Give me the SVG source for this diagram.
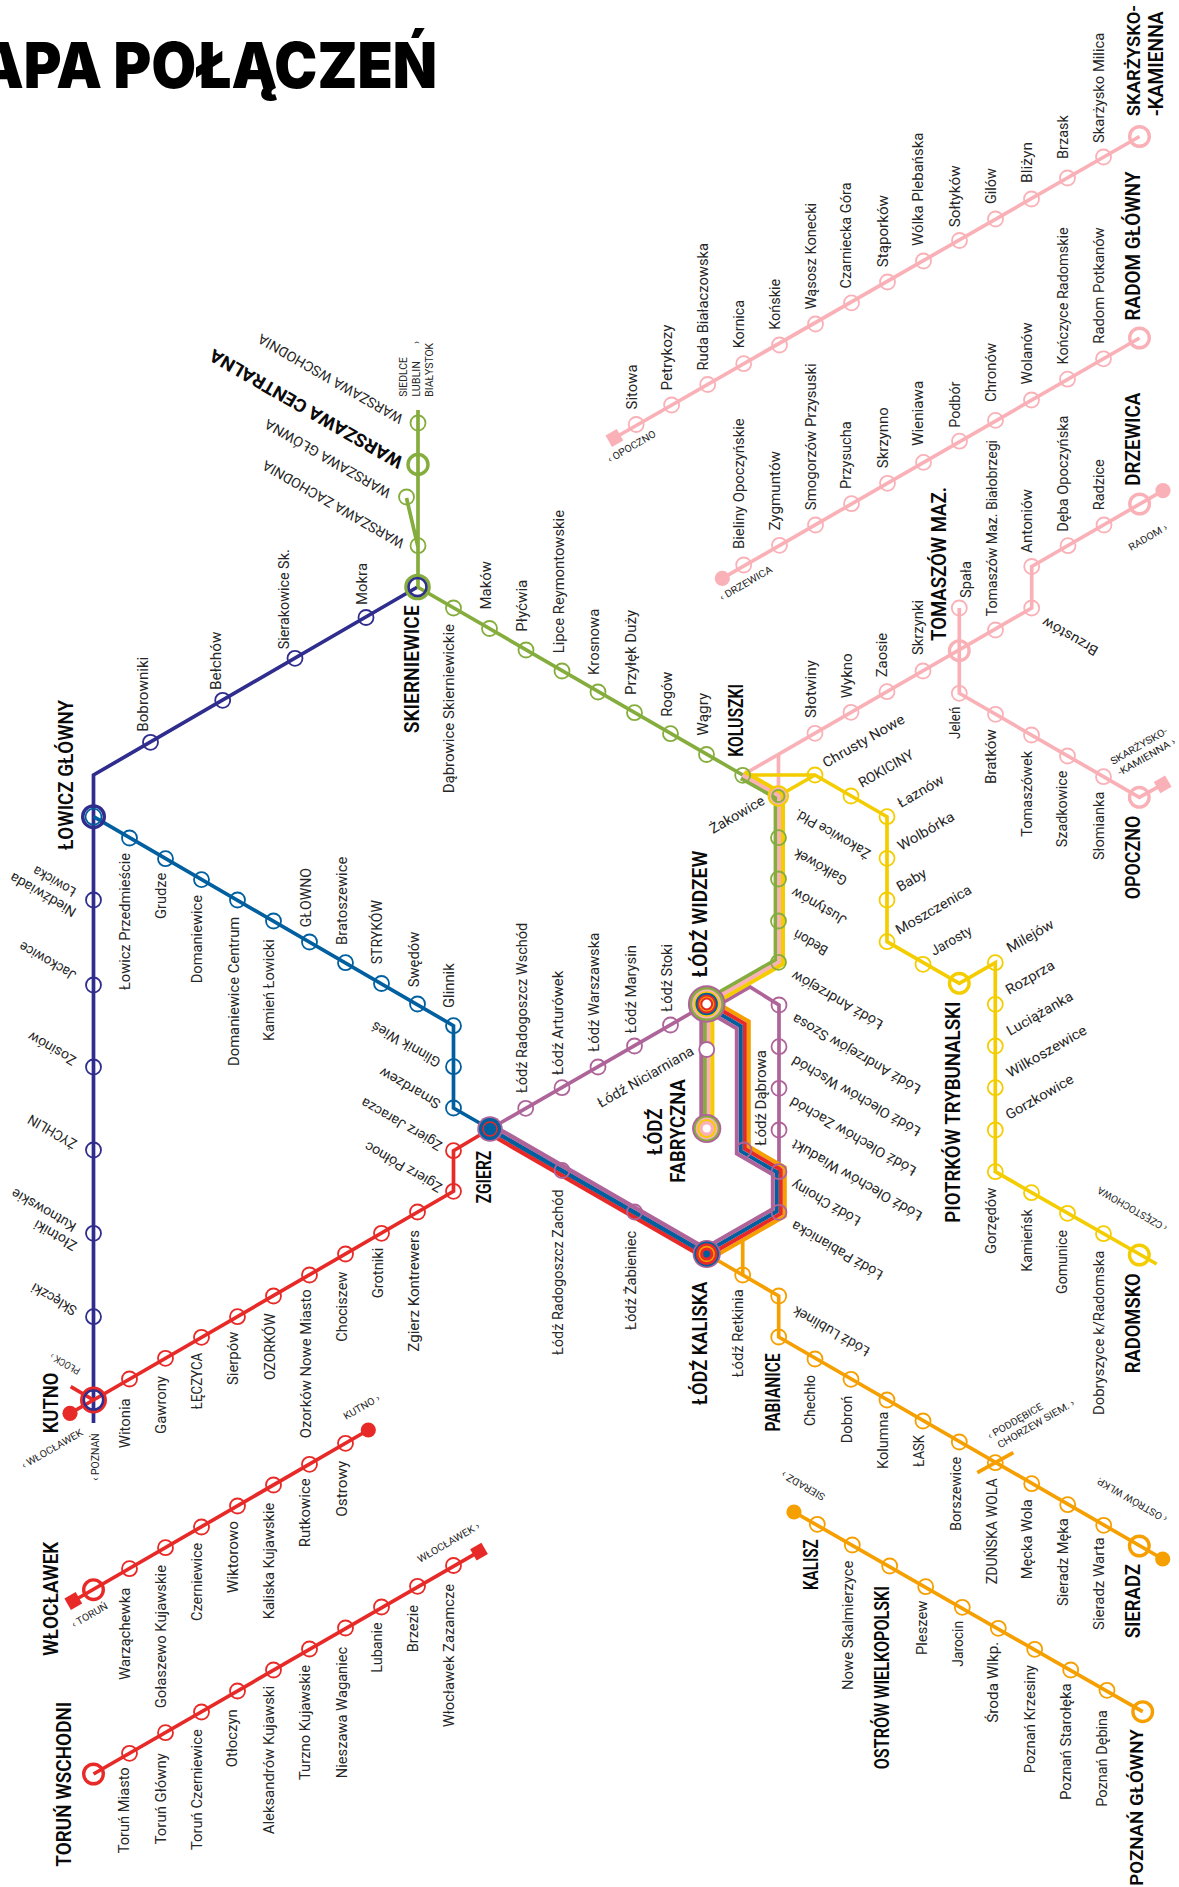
<svg xmlns="http://www.w3.org/2000/svg" width="1179" height="1887" viewBox="0 0 1179 1887">
<style>
text{font-family:Roboto,"Noto Sans","Liberation Sans",sans-serif;fill:#262626}
.l{font-size:14px}
.t{font-size:10px}
.h{font-size:20px;font-weight:600;fill:#0a0a0a}
.w{font-size:18px;font-weight:700;fill:#0a0a0a}
.ti{font-family:Inter,"Open Sans",sans-serif;font-size:63px;font-weight:900;fill:#000}
path{fill:none;stroke-linejoin:miter}
.ln{stroke-width:3.7}
.bd{stroke-width:4}
.bz{stroke-width:4.4}
circle{fill:none;stroke-width:1.8}
.big{stroke-width:3.4}
.nv{stroke:#2f2d8d}.bl{stroke:#005f9f}.rd{stroke:#e72a27}.pk{stroke:#f9b1b7}.yl{stroke:#f4cd00}.or{stroke:#f59f00}.gr{stroke:#85ad3d}.pu{stroke:#ae6499}
</style>
<g id="title"><text class="ti" x="-22" y="88" textLength="459" lengthAdjust="spacingAndGlyphs">APA POŁĄCZEŃ</text></g>
<g id="connectors">
<path class="ln nv" d="M417.5 587L93.5 775V1423"/>
<path class="ln bl" d="M93.5 816.7L453.5 1025.7V1108L490 1129"/>
<path class="ln rd" d="M490 1129L453.5 1150.7V1191.3L93.5 1400M70 1413.3L93.5 1400M70.7 1386.7L93.5 1400"/>
<path class="ln rd" d="M368.3 1430L73.3 1601"/>
<path class="ln rd" d="M93.5 1774L479 1551.7"/>
<path class="ln pk" d="M614.4 438L1139.5 136.5"/>
<path class="ln pk" d="M722.3 578.4L1139.5 338"/>
<path class="ln pk" d="M742.7 775L1031.7 608V566.5L1163 490.6"/>
<path class="ln pk" d="M959.3 608V693.3L1139.3 797.3L1162.7 784.3"/>
<path class="ln pk" d="M778.5 754V796"/>
<path class="ln yl" d="M742.7 775H815L887 816.7V941.7L959.3 983.3L995.3 962.7V1171.7L1156.7 1264"/>
<path class="ln yl" d="M815 775L778.5 796"/>
<path class="ln or" d="M706.7 1254L778.7 1296V1337L1162.7 1559"/>
<path class="ln or" d="M742.7 1240V1275"/>
<path class="ln or" d="M977.3 1472.7L1013.3 1452.7"/>
<path class="ln or" d="M794 1512L1142.7 1711.7"/>
<path class="ln gr" d="M417.5 587L742.7 775"/>
<path class="ln gr" d="M418 410V587M406.5 498L418 547"/>
<path class="ln pu" d="M490 1129L706.7 1004"/>
<path class="ln pu" d="M706.7 1012L750 987L779 1005V1174"/>
<path class="bd pu" d="M701.3 1129V1004"/>
<path class="bd gr" d="M705 1129V1000.4L775.6 959.9V797.8L740.9 778.2"/>
<path class="bd pk" d="M708.7 1129V1002.5L779.3 962V795.7L742.7 775"/>
<path class="bd yl" d="M712.4 1129V1004.6L783 964.1V793.6L744.5 771.8"/>
<path class="bd or" d="M709.7 998.8L748.8 1021.5V1146.5L784.8 1167.5V1216L709.7 1259.2"/>
<path class="bd rd" d="M707.7 1002.3L744.8 1023.8V1148.8L780.8 1169.8V1213.7L707.7 1255.7"/>
<path class="bd bl" d="M705.7 1005.7L740.8 1026.2V1151.2L776.8 1172.2V1211.3L705.7 1252.3"/>
<path class="bd pu" d="M703.7 1009.2L736.8 1028.5V1153.5L772.8 1174.5V1209L703.7 1248.8"/>
<path class="bz rd" d="M487.8 1132.7L704.5 1257.7"/>
<path class="bz bl" d="M490 1129L706.7 1254"/>
<path class="bz pu" d="M492.2 1125.3L708.9 1250.3"/>
</g>
<g id="lowicz-glowny"><circle class="big nv" cx="93.5" cy="816.7" r="10.8"/><circle class="bl" cx="93.5" cy="816.7" r="8"/><text class="h" transform="translate(73.3 850)rotate(-90)" textLength="150" lengthAdjust="spacingAndGlyphs">ŁOWICZ GŁÓWNY</text></g>
<g id="bobrowniki"><circle class="nv" cx="150.5" cy="742.3" r="7.5"/><text class="l" transform="translate(148.3 731.7)rotate(-90)" textLength="75" lengthAdjust="spacingAndGlyphs">Bobrowniki</text></g>
<g id="belchow"><circle class="nv" cx="222.7" cy="700.3" r="7.5"/><text class="l" transform="translate(220.7 690)rotate(-90)" textLength="58.4" lengthAdjust="spacingAndGlyphs">Bełchów</text></g>
<g id="sierakowice"><circle class="nv" cx="295" cy="658.3" r="7.5"/><text class="l" transform="translate(288.7 649.3)rotate(-90)" textLength="100" lengthAdjust="spacingAndGlyphs">Sierakowice Sk.</text></g>
<g id="mokra"><circle class="nv" cx="366" cy="617.5" r="7.5"/><text class="l" transform="translate(366.7 605)rotate(-90)" textLength="42" lengthAdjust="spacingAndGlyphs">Mokra</text></g>
<g id="skierniewice"><circle class="gr" style="stroke-width:3.4" cx="417.5" cy="587" r="11.6"/><circle class="nv" style="stroke-width:2.6" cx="417.5" cy="587" r="9"/><text class="h" transform="translate(419 733.3)rotate(-90)" textLength="128" lengthAdjust="spacingAndGlyphs">SKIERNIEWICE</text></g>
<g id="niedzwiada"><circle class="nv" cx="93.5" cy="900" r="7.5"/><text class="l" transform="translate(77.3 909.3)rotate(210)" textLength="74" lengthAdjust="spacingAndGlyphs">Niedźwiada</text><text class="l" transform="translate(77 889)rotate(210)" textLength="47" lengthAdjust="spacingAndGlyphs">Łowicka</text></g>
<g id="jackowice"><circle class="nv" cx="93.5" cy="985" r="7.5"/><text class="l" transform="translate(77.3 972.7)rotate(210)" textLength="63" lengthAdjust="spacingAndGlyphs">Jackowice</text></g>
<g id="zosinow"><circle class="nv" cx="93.5" cy="1067" r="7.5"/><text class="l" transform="translate(77.3 1057.7)rotate(210)" textLength="53" lengthAdjust="spacingAndGlyphs">Zosinów</text></g>
<g id="zychlin"><circle class="nv" cx="93.5" cy="1150" r="7.5"/><text class="l" transform="translate(78 1141)rotate(210)" textLength="54" lengthAdjust="spacingAndGlyphs">ŻYCHLIN</text></g>
<g id="zlotniki"><circle class="nv" cx="93.5" cy="1233.3" r="7.5"/><text class="l" transform="translate(78 1243)rotate(210)" textLength="47" lengthAdjust="spacingAndGlyphs">Złotniki</text><text class="l" transform="translate(77.3 1224)rotate(210)" textLength="72" lengthAdjust="spacingAndGlyphs">Kutnowskie</text></g>
<g id="skleczki"><circle class="nv" cx="93.5" cy="1316.7" r="7.5"/><text class="l" transform="translate(78 1307.7)rotate(210)" textLength="50" lengthAdjust="spacingAndGlyphs">Sklęczki</text></g>
<g id="kutno"><circle class="big rd" cx="93.5" cy="1400" r="11.8"/><circle class="nv" style="stroke-width:2.4" cx="93.5" cy="1400" r="9.6"/><text class="h" transform="translate(57.7 1433.3)rotate(-90)" textLength="60.6" lengthAdjust="spacingAndGlyphs">KUTNO</text></g>
<g id="dir-plock"><text class="t" transform="translate(81 1369)rotate(210)" textLength="33" lengthAdjust="spacingAndGlyphs">PŁOCK ›</text></g>
<g id="dir-plock-dot"><circle style="stroke:none;fill:#e72a27" cx="70" cy="1413.3" r="7.6"/></g>
<g id="dir-wloclawek"><text class="t" transform="translate(24 1469)rotate(-30)" textLength="69" lengthAdjust="spacingAndGlyphs">‹ WŁOCŁAWEK</text></g>
<g id="dir-poznan"><text class="t" transform="translate(99 1480.7)rotate(-90)" textLength="47.4" lengthAdjust="spacingAndGlyphs">‹ POZNAŃ</text></g>
<g id="lowicz-przedmiescie"><circle class="bl" cx="129.5" cy="838" r="7.5"/><text class="l" transform="translate(130 990)rotate(-90)" textLength="137" lengthAdjust="spacingAndGlyphs">Łowicz Przedmieście</text></g>
<g id="grudze"><circle class="bl" cx="165.5" cy="858.7" r="7.5"/><text class="l" transform="translate(165.7 919)rotate(-90)" textLength="46.3" lengthAdjust="spacingAndGlyphs">Grudze</text></g>
<g id="domaniewice"><circle class="bl" cx="201.5" cy="879.6" r="7.5"/><text class="l" transform="translate(202 983.3)rotate(-90)" textLength="88.3" lengthAdjust="spacingAndGlyphs">Domaniewice</text></g>
<g id="domaniewice-centrum"><circle class="bl" cx="237.5" cy="900" r="7.5"/><text class="l" transform="translate(238.7 1066)rotate(-90)" textLength="149.3" lengthAdjust="spacingAndGlyphs">Domaniewice Centrum</text></g>
<g id="kamien-lowicki"><circle class="bl" cx="273.5" cy="921" r="7.5"/><text class="l" transform="translate(274 1041)rotate(-90)" textLength="101.7" lengthAdjust="spacingAndGlyphs">Kamień Łowicki</text></g>
<g id="glowno"><circle class="bl" cx="309.5" cy="942" r="7.5"/><text class="l" transform="translate(310.7 927.3)rotate(-90)" textLength="59.3" lengthAdjust="spacingAndGlyphs">GŁOWNO</text></g>
<g id="bratoszewice"><circle class="bl" cx="345.5" cy="962.7" r="7.5"/><text class="l" transform="translate(346.7 945)rotate(-90)" textLength="88.3" lengthAdjust="spacingAndGlyphs">Bratoszewice</text></g>
<g id="strykow"><circle class="bl" cx="381.5" cy="983.5" r="7.5"/><text class="l" transform="translate(382.3 964.3)rotate(-90)" textLength="64.3" lengthAdjust="spacingAndGlyphs">STRYKÓW</text></g>
<g id="swedow"><circle class="bl" cx="417.5" cy="1004" r="7.5"/><text class="l" transform="translate(419 987.3)rotate(-90)" textLength="55.6" lengthAdjust="spacingAndGlyphs">Swędów</text></g>
<g id="glinnik"><circle class="bl" cx="453.5" cy="1025.7" r="7.5"/><text class="l" transform="translate(454 1008)rotate(-90)" textLength="44.7" lengthAdjust="spacingAndGlyphs">Glinnik</text></g>
<g id="glinnik-wies"><circle class="bl" cx="453.5" cy="1066.7" r="7.5"/><text class="l" transform="translate(441.7 1059.6)rotate(210)" textLength="77" lengthAdjust="spacingAndGlyphs">Glinnik Wieś</text></g>
<g id="smardzew"><circle class="bl" cx="453.5" cy="1108" r="7.5"/><text class="l" transform="translate(441.7 1101)rotate(210)" textLength="68" lengthAdjust="spacingAndGlyphs">Smardzew</text></g>
<g id="zgierz"><circle style="fill:#ae6499;stroke:none" cx="490" cy="1129" r="12.8"/><circle style="fill:#005f9f;stroke:none" cx="490" cy="1129" r="11"/><circle class="rd" style="stroke-width:1.6" cx="490" cy="1129" r="7"/><text class="h" transform="translate(490.7 1203.3)rotate(-90)" textLength="52.6" lengthAdjust="spacingAndGlyphs">ZGIERZ</text></g>
<g id="zgierz-jaracza"><circle class="rd" cx="453.5" cy="1150.7" r="7.5"/><text class="l" transform="translate(443.3 1143)rotate(210)" textLength="91" lengthAdjust="spacingAndGlyphs">Zgierz Jaracza</text></g>
<g id="zgierz-polnoc"><circle class="rd" cx="453.5" cy="1191.3" r="7.5"/><text class="l" transform="translate(443.3 1184.7)rotate(210)" textLength="87" lengthAdjust="spacingAndGlyphs">Zgierz Północ</text></g>
<g id="zgierz-kontrewers"><circle class="rd" cx="417.5" cy="1212" r="7.5"/><text class="l" transform="translate(419.3 1351.7)rotate(-90)" textLength="121.7" lengthAdjust="spacingAndGlyphs">Zgierz Kontrewers</text></g>
<g id="grotniki"><circle class="rd" cx="381.5" cy="1233.3" r="7.5"/><text class="l" transform="translate(382.7 1298.3)rotate(-90)" textLength="50.6" lengthAdjust="spacingAndGlyphs">Grotniki</text></g>
<g id="chociszew"><circle class="rd" cx="345.5" cy="1254" r="7.5"/><text class="l" transform="translate(346.7 1341.7)rotate(-90)" textLength="70" lengthAdjust="spacingAndGlyphs">Chociszew</text></g>
<g id="ozorkow-nm"><circle class="rd" cx="309.5" cy="1275" r="7.5"/><text class="l" transform="translate(310.7 1438.3)rotate(-90)" textLength="149" lengthAdjust="spacingAndGlyphs">Ozorków Nowe Miasto</text></g>
<g id="ozorkow"><circle class="rd" cx="273.5" cy="1296" r="7.5"/><text class="l" transform="translate(275 1380)rotate(-90)" textLength="66.7" lengthAdjust="spacingAndGlyphs">OZORKÓW</text></g>
<g id="sierpow"><circle class="rd" cx="237.5" cy="1316.7" r="7.5"/><text class="l" transform="translate(238 1385)rotate(-90)" textLength="53.3" lengthAdjust="spacingAndGlyphs">Sierpów</text></g>
<g id="leczyca"><circle class="rd" cx="201.5" cy="1337.3" r="7.5"/><text class="l" transform="translate(201.7 1409.3)rotate(-90)" textLength="56.6" lengthAdjust="spacingAndGlyphs">ŁĘCZYCA</text></g>
<g id="gawrony"><circle class="rd" cx="165.5" cy="1358.3" r="7.5"/><text class="l" transform="translate(165.5 1434)rotate(-90)" textLength="58" lengthAdjust="spacingAndGlyphs">Gawrony</text></g>
<g id="witonia"><circle class="rd" cx="129.5" cy="1379" r="7.5"/><text class="l" transform="translate(130 1448.3)rotate(-90)" textLength="50" lengthAdjust="spacingAndGlyphs">Witonia</text></g>
<g id="dir-kutno"><circle style="stroke:none;fill:#e72a27" cx="368.3" cy="1430" r="7.6"/><text class="t" transform="translate(346 1420)rotate(-30)" textLength="40" lengthAdjust="spacingAndGlyphs">KUTNO ›</text></g>
<g id="ostrowy"><circle class="rd" cx="345.5" cy="1443.3" r="7.5"/><text class="l" transform="translate(346.7 1516.7)rotate(-90)" textLength="56" lengthAdjust="spacingAndGlyphs">Ostrowy</text></g>
<g id="rutkowice"><circle class="rd" cx="309.5" cy="1464.3" r="7.5"/><text class="l" transform="translate(310 1547.3)rotate(-90)" textLength="69" lengthAdjust="spacingAndGlyphs">Rutkowice</text></g>
<g id="kaliska-kuj"><circle class="rd" cx="273.5" cy="1485" r="7.5"/><text class="l" transform="translate(274 1619.3)rotate(-90)" textLength="116.6" lengthAdjust="spacingAndGlyphs">Kaliska Kujawskie</text></g>
<g id="wiktorowo"><circle class="rd" cx="237.5" cy="1506" r="7.5"/><text class="l" transform="translate(238.3 1593.3)rotate(-90)" textLength="72.3" lengthAdjust="spacingAndGlyphs">Wiktorowo</text></g>
<g id="czerniewice"><circle class="rd" cx="201.5" cy="1527" r="7.5"/><text class="l" transform="translate(201.7 1621)rotate(-90)" textLength="78.3" lengthAdjust="spacingAndGlyphs">Czerniewice</text></g>
<g id="golaszewo"><circle class="rd" cx="165.5" cy="1547.7" r="7.5"/><text class="l" transform="translate(165.7 1708.3)rotate(-90)" textLength="143.3" lengthAdjust="spacingAndGlyphs">Gołaszewo Kujawskie</text></g>
<g id="warzachewka"><circle class="rd" cx="129.5" cy="1568.7" r="7.5"/><text class="l" transform="translate(130 1680)rotate(-90)" textLength="92.3" lengthAdjust="spacingAndGlyphs">Warząchewka</text></g>
<g id="wloclawek"><circle class="big rd" cx="93.5" cy="1589.7" r="9.8"/><text class="h" transform="translate(57.7 1656)rotate(-90)" textLength="114.3" lengthAdjust="spacingAndGlyphs">WŁOCŁAWEK</text></g>
<g id="dir-torun"><rect x="-6.5" y="-6.5" width="13" height="13" fill="#e72a27" transform="translate(73.3 1601)rotate(-30)"/><text class="t" transform="translate(74 1628)rotate(-30)" textLength="40" lengthAdjust="spacingAndGlyphs">‹ TORUŃ</text></g>
<g id="torun-wsch"><circle class="big rd" cx="93.5" cy="1774" r="9.8"/><text class="h" transform="translate(71 1866.7)rotate(-90)" textLength="165" lengthAdjust="spacingAndGlyphs">TORUŃ WSCHODNI</text></g>
<g id="torun-miasto"><circle class="rd" cx="129.5" cy="1753.3" r="7.5"/><text class="l" transform="translate(129.3 1853.3)rotate(-90)" textLength="86" lengthAdjust="spacingAndGlyphs">Toruń Miasto</text></g>
<g id="torun-glowny"><circle class="rd" cx="165.5" cy="1732.7" r="7.5"/><text class="l" transform="translate(165.7 1844.3)rotate(-90)" textLength="91" lengthAdjust="spacingAndGlyphs">Toruń Główny</text></g>
<g id="torun-czern"><circle class="rd" cx="201.5" cy="1712" r="7.5"/><text class="l" transform="translate(201.7 1850)rotate(-90)" textLength="120.7" lengthAdjust="spacingAndGlyphs">Toruń Czerniewice</text></g>
<g id="otloczyn"><circle class="rd" cx="237.5" cy="1691" r="7.5"/><text class="l" transform="translate(237.3 1767.3)rotate(-90)" textLength="58" lengthAdjust="spacingAndGlyphs">Otłoczyn</text></g>
<g id="aleksandrow"><circle class="rd" cx="273.5" cy="1670" r="7.5"/><text class="l" transform="translate(274 1834.3)rotate(-90)" textLength="148.3" lengthAdjust="spacingAndGlyphs">Aleksandrów Kujawski</text></g>
<g id="turzno"><circle class="rd" cx="309.5" cy="1649" r="7.5"/><text class="l" transform="translate(310 1780)rotate(-90)" textLength="115" lengthAdjust="spacingAndGlyphs">Turzno Kujawskie</text></g>
<g id="nieszawa"><circle class="rd" cx="345.5" cy="1628" r="7.5"/><text class="l" transform="translate(346.7 1778.3)rotate(-90)" textLength="131.6" lengthAdjust="spacingAndGlyphs">Nieszawa Waganiec</text></g>
<g id="lubanie"><circle class="rd" cx="381.5" cy="1607" r="7.5"/><text class="l" transform="translate(382.3 1672.7)rotate(-90)" textLength="50.4" lengthAdjust="spacingAndGlyphs">Lubanie</text></g>
<g id="brzezie"><circle class="rd" cx="417.5" cy="1586.3" r="7.5"/><text class="l" transform="translate(418.3 1652.3)rotate(-90)" textLength="47.3" lengthAdjust="spacingAndGlyphs">Brzezie</text></g>
<g id="wl-zazamcze"><circle class="rd" cx="453.5" cy="1565.5" r="7.5"/><text class="l" transform="translate(454.3 1727.3)rotate(-90)" textLength="143.3" lengthAdjust="spacingAndGlyphs">Włocławek Zazamcze</text></g>
<g id="dir-wloclawek2"><rect x="-6.5" y="-6.5" width="13" height="13" fill="#e72a27" transform="translate(479 1551.7)rotate(-30)"/><text class="t" transform="translate(420 1563)rotate(-30)" textLength="70" lengthAdjust="spacingAndGlyphs">WŁOCŁAWEK ›</text></g>
<g id="warszawa-wsch"><circle class="gr" cx="418" cy="423" r="7.5"/><text class="l" transform="translate(404.2 415.8)rotate(210)" textLength="165" lengthAdjust="spacingAndGlyphs">WARSZAWA WSCHODNIA</text></g>
<g id="warszawa-cent"><circle class="big gr" cx="418" cy="464.5" r="10"/><text class="w" transform="translate(404.4 458.3)rotate(210)" textLength="220" lengthAdjust="spacingAndGlyphs">WARSZAWA CENTRALNA</text></g>
<g id="warszawa-glowna"><circle class="gr" cx="406.5" cy="497" r="7.5"/><text class="l" transform="translate(392 490)rotate(210)" textLength="143" lengthAdjust="spacingAndGlyphs">WARSZAWA GŁÓWNA</text></g>
<g id="warszawa-zach"><circle class="gr" cx="418" cy="545.7" r="7.5"/><text class="l" transform="translate(405.4 540.3)rotate(210)" textLength="161" lengthAdjust="spacingAndGlyphs">WARSZAWA ZACHODNIA</text></g>
<g id="dir-siedlce"><text class="t" transform="translate(406.9 396.7)rotate(-90)" textLength="39.7" lengthAdjust="spacingAndGlyphs">SIEDLCE</text><text class="t" transform="translate(420.3 396.7)rotate(-90)" textLength="35.7" lengthAdjust="spacingAndGlyphs">LUBLIN</text><text class="t" transform="translate(433 396.7)rotate(-90)" textLength="53.8" lengthAdjust="spacingAndGlyphs">BIAŁYSTOK</text><text class="t" transform="translate(420.3 344)rotate(-90)">›</text></g>
<g id="dabrowice"><circle class="gr" cx="453.5" cy="608" r="7.5"/><text class="l" transform="translate(454 793.3)rotate(-90)" textLength="169.3" lengthAdjust="spacingAndGlyphs">Dąbrowice Skierniewickie</text></g>
<g id="makow"><circle class="gr" cx="489.5" cy="628.5" r="7.5"/><text class="l" transform="translate(491 609.4)rotate(-90)" textLength="48.4" lengthAdjust="spacingAndGlyphs">Maków</text></g>
<g id="plycwia"><circle class="gr" cx="526" cy="650" r="7.5"/><text class="l" transform="translate(527 631.8)rotate(-90)" textLength="52.2" lengthAdjust="spacingAndGlyphs">Płyćwia</text></g>
<g id="lipce"><circle class="gr" cx="562" cy="671" r="7.5"/><text class="l" transform="translate(563.5 653.3)rotate(-90)" textLength="143.3" lengthAdjust="spacingAndGlyphs">Lipce Reymontowskie</text></g>
<g id="krosnowa"><circle class="gr" cx="598" cy="692" r="7.5"/><text class="l" transform="translate(599 675)rotate(-90)" textLength="66.3" lengthAdjust="spacingAndGlyphs">Krosnowa</text></g>
<g id="przylek"><circle class="gr" cx="634.5" cy="712.7" r="7.5"/><text class="l" transform="translate(635.7 695)rotate(-90)" textLength="85" lengthAdjust="spacingAndGlyphs">Przyłęk Duży</text></g>
<g id="rogow"><circle class="gr" cx="670.5" cy="733.7" r="7.5"/><text class="l" transform="translate(671.7 716.7)rotate(-90)" textLength="45" lengthAdjust="spacingAndGlyphs">Rogów</text></g>
<g id="wagry"><circle class="gr" cx="706.5" cy="754.5" r="7.5"/><text class="l" transform="translate(707.5 735.7)rotate(-90)" textLength="43" lengthAdjust="spacingAndGlyphs">Wągry</text></g>
<g id="koluszki"><circle class="gr" cx="742.7" cy="775.3" r="7.5"/><text class="h" transform="translate(743.3 756.7)rotate(-90)" textLength="72.7" lengthAdjust="spacingAndGlyphs">KOLUSZKI</text></g>
<g id="zakowice"><circle class="yl" style="stroke-width:2.2" cx="778.3" cy="796" r="9.6"/><circle class="pk" style="stroke-width:2" cx="778.3" cy="796" r="7.6"/><circle class="gr" cx="778.3" cy="796" r="6.2"/><text class="l" transform="translate(713 834)rotate(-30)" textLength="61" lengthAdjust="spacingAndGlyphs">Żakowice</text></g>
<g id="zakowice-pld"><circle class="gr" cx="778.5" cy="837.7" r="7.5"/><text class="l" transform="translate(871.7 851)rotate(210)" textLength="85" lengthAdjust="spacingAndGlyphs">Żakowice Płd.</text></g>
<g id="galkowek"><circle class="gr" cx="778.5" cy="879" r="7.5"/><text class="l" transform="translate(848.3 877.7)rotate(210)" textLength="59" lengthAdjust="spacingAndGlyphs">Gałkówek</text></g>
<g id="justynow"><circle class="gr" cx="778.5" cy="921" r="7.5"/><text class="l" transform="translate(847.7 917.7)rotate(210)" textLength="61" lengthAdjust="spacingAndGlyphs">Justynów</text></g>
<g id="bedon"><circle class="gr" cx="778.5" cy="962.3" r="7.5"/><text class="l" transform="translate(829 947.7)rotate(210)" textLength="37" lengthAdjust="spacingAndGlyphs">Bedoń</text></g>
<g id="lodz-radogoszcz-w"><circle class="pu" cx="525.7" cy="1108.3" r="7.5"/><text class="l" transform="translate(527.3 1093)rotate(-90)" textLength="170.3" lengthAdjust="spacingAndGlyphs">Łódź Radogoszcz Wschód</text></g>
<g id="lodz-arturowek"><circle class="pu" cx="562" cy="1087.7" r="7.5"/><text class="l" transform="translate(563.3 1075)rotate(-90)" textLength="104.3" lengthAdjust="spacingAndGlyphs">Łódź Arturówek</text></g>
<g id="lodz-warszawska"><circle class="pu" cx="598" cy="1067" r="7.5"/><text class="l" transform="translate(599.3 1051.7)rotate(-90)" textLength="119" lengthAdjust="spacingAndGlyphs">Łódź Warszawska</text></g>
<g id="lodz-marysin"><circle class="pu" cx="634.5" cy="1046" r="7.5"/><text class="l" transform="translate(635.7 1033.3)rotate(-90)" textLength="88.3" lengthAdjust="spacingAndGlyphs">Łódź Marysin</text></g>
<g id="lodz-stoki"><circle class="pu" cx="670.5" cy="1025" r="7.5"/><text class="l" transform="translate(671.7 1011.7)rotate(-90)" textLength="67.7" lengthAdjust="spacingAndGlyphs">Łódź Stoki</text></g>
<g id="lodz-widzew"><circle style="fill:#ae6499;stroke:none" cx="706.7" cy="1004" r="18.8"/><circle style="fill:#85ad3d;stroke:none" cx="706.7" cy="1004" r="16.8"/><circle style="fill:#f9b1b7;stroke:none" cx="706.7" cy="1004" r="14.6"/><circle style="fill:#f4cd00;stroke:none" cx="706.7" cy="1004" r="12.8"/><circle style="fill:#005f9f;stroke:none" cx="706.7" cy="1004" r="11.2"/><circle style="fill:#e72a27;stroke:none" cx="706.7" cy="1004" r="9.4"/><circle style="fill:#f59f00;stroke:none" cx="706.7" cy="1004" r="7.6"/><circle style="fill:#e72a27;stroke:none" cx="706.7" cy="1004" r="6.4"/><circle style="fill:#fff;stroke:none" cx="706.7" cy="1004" r="4.4"/><text class="h" transform="translate(706.7 977.3)rotate(-90)" textLength="126.6" lengthAdjust="spacingAndGlyphs">ŁÓDŹ WIDZEW</text></g>
<g id="lodz-niciarniana"><circle style="fill:#fff;stroke:#ae6499;stroke-width:1.8" cx="706.7" cy="1049.5" r="7.5"/><text class="l" transform="translate(601 1108)rotate(-30)" textLength="108.5" lengthAdjust="spacingAndGlyphs">Łódź Niciarniana</text></g>
<g id="lodz-fabryczna"><circle style="fill:#ae6499;stroke:none" cx="706.7" cy="1128.5" r="14.6"/><circle style="fill:#85ad3d;stroke:none" cx="706.7" cy="1128.5" r="12.8"/><circle style="fill:#f9b1b7;stroke:none" cx="706.7" cy="1128.5" r="11"/><circle style="fill:#f4cd00;stroke:none" cx="706.7" cy="1128.5" r="9.4"/><circle style="fill:#f9b1b7;stroke:none" cx="706.7" cy="1128.5" r="7.4"/><circle style="fill:#fff;stroke:none" cx="706.7" cy="1128.5" r="4"/><text class="h" transform="translate(661.7 1155)rotate(-90)" textLength="46.7" lengthAdjust="spacingAndGlyphs">ŁÓDŹ</text><text class="h" transform="translate(685 1182.7)rotate(-90)" textLength="103.4" lengthAdjust="spacingAndGlyphs">FABRYCZNA</text></g>
<g id="lodz-dabrowa"><circle class="pu" cx="744" cy="1150" r="7.5"/><text class="l" transform="translate(765.7 1145.7)rotate(-90)" textLength="95.7" lengthAdjust="spacingAndGlyphs">Łódź Dąbrowa</text></g>
<g id="lodz-andrzejow"><circle class="pu" cx="779" cy="1005" r="7.5"/><text class="l" transform="translate(884 1021.7)rotate(210)" textLength="103" lengthAdjust="spacingAndGlyphs">Łódź Andrzejów</text></g>
<g id="lodz-szosa"><circle class="pu" cx="779" cy="1046.7" r="7.5"/><text class="l" transform="translate(921.7 1086.3)rotate(210)" textLength="145.5" lengthAdjust="spacingAndGlyphs">Łódź Andrzejów Szosa</text></g>
<g id="lodz-ol-wschod"><circle class="pu" cx="779" cy="1088.3" r="7.5"/><text class="l" transform="translate(921.7 1128.5)rotate(210)" textLength="146" lengthAdjust="spacingAndGlyphs">Łódź Olechów Wschód</text></g>
<g id="lodz-ol-zachod"><circle class="pu" cx="779" cy="1130" r="7.5"/><text class="l" transform="translate(917.3 1168)rotate(210)" textLength="143" lengthAdjust="spacingAndGlyphs">Łódź Olechów Zachód</text></g>
<g id="lodz-ol-wiadukt"><circle class="pu" cx="779" cy="1171.7" r="7.5"/><text class="l" transform="translate(923.3 1213)rotate(210)" textLength="148" lengthAdjust="spacingAndGlyphs">Łódź Olechów Wiadukt</text></g>
<g id="lodz-choiny"><circle class="pu" cx="779" cy="1212.3" r="7.5"/><text class="l" transform="translate(861.7 1218)rotate(210)" textLength="77" lengthAdjust="spacingAndGlyphs">Łódź Choiny</text></g>
<g id="lodz-pabianicka"><text class="l" transform="translate(884 1272)rotate(210)" textLength="103" lengthAdjust="spacingAndGlyphs">Łódź Pabianicka</text></g>
<g id="lodz-radogoszcz-z"><circle class="pu" cx="562" cy="1170.5" r="7.5"/><text class="l" transform="translate(563.3 1355)rotate(-90)" textLength="165.7" lengthAdjust="spacingAndGlyphs">Łódź Radogoszcz Zachód</text></g>
<g id="lodz-zabieniec"><circle class="pu" cx="634.5" cy="1212" r="7.5"/><text class="l" transform="translate(635.7 1330)rotate(-90)" textLength="99.3" lengthAdjust="spacingAndGlyphs">Łódź Żabieniec</text></g>
<g id="lodz-kaliska"><circle style="fill:#ae6499;stroke:none" cx="706.7" cy="1254" r="14"/><circle style="fill:#005f9f;stroke:none" cx="706.7" cy="1254" r="12.4"/><circle style="fill:#e72a27;stroke:none" cx="706.7" cy="1254" r="10.8"/><circle style="fill:#f59f00;stroke:none" cx="706.7" cy="1254" r="8.2"/><circle style="fill:#e72a27;stroke:none" cx="706.7" cy="1254" r="6.6"/><circle style="fill:#005f9f;stroke:none" cx="706.7" cy="1254" r="3.4"/><text class="h" transform="translate(706.7 1405)rotate(-90)" textLength="123.3" lengthAdjust="spacingAndGlyphs">ŁÓDŹ KALISKA</text></g>
<g id="lodz-retkinia"><circle class="or" cx="742.7" cy="1275" r="7.5"/><text class="l" transform="translate(743.3 1377.3)rotate(-90)" textLength="88" lengthAdjust="spacingAndGlyphs">Łódź Retkinia</text></g>
<g id="lodz-lublinek"><circle class="or" cx="778.7" cy="1296" r="7.5"/><text class="l" transform="translate(870.7 1348.6)rotate(210)" textLength="86" lengthAdjust="spacingAndGlyphs">Łódź Lublinek</text></g>
<g id="pabianice"><circle class="or" cx="778.7" cy="1337" r="7.5"/><text class="h" transform="translate(780 1431.6)rotate(-90)" textLength="78.3" lengthAdjust="spacingAndGlyphs">PABIANICE</text></g>
<g id="chechlo"><circle class="or" cx="815" cy="1359" r="7.5"/><text class="l" transform="translate(815 1426)rotate(-90)" textLength="51" lengthAdjust="spacingAndGlyphs">Chechło</text></g>
<g id="dobron"><circle class="or" cx="851" cy="1379.3" r="7.5"/><text class="l" transform="translate(851.7 1443.3)rotate(-90)" textLength="47.6" lengthAdjust="spacingAndGlyphs">Dobroń</text></g>
<g id="kolumna"><circle class="or" cx="887" cy="1400" r="7.5"/><text class="l" transform="translate(888.3 1469)rotate(-90)" textLength="57.3" lengthAdjust="spacingAndGlyphs">Kolumna</text></g>
<g id="lask"><circle class="or" cx="923" cy="1421" r="7.5"/><text class="l" transform="translate(924.3 1466.7)rotate(-90)" textLength="31.7" lengthAdjust="spacingAndGlyphs">ŁASK</text></g>
<g id="borszewice"><circle class="or" cx="959.3" cy="1442" r="7.5"/><text class="l" transform="translate(960.7 1531)rotate(-90)" textLength="74.3" lengthAdjust="spacingAndGlyphs">Borszewice</text></g>
<g id="zdunska-wola"><circle class="or" cx="995.3" cy="1462.7" r="7.5"/><text class="l" transform="translate(996.7 1584.3)rotate(-90)" textLength="106" lengthAdjust="spacingAndGlyphs">ZDUŃSKA WOLA</text></g>
<g id="dir-poddebice"><text class="t" transform="translate(990 1439.5)rotate(-30)" textLength="62" lengthAdjust="spacingAndGlyphs">‹ PODDĘBICE</text><text class="t" transform="translate(1000 1448.5)rotate(-30)" textLength="87" lengthAdjust="spacingAndGlyphs">CHORZEW SIEM. ›</text></g>
<g id="mecka-wola"><circle class="or" cx="1031.7" cy="1483.7" r="7.5"/><text class="l" transform="translate(1031.7 1579.3)rotate(-90)" textLength="80" lengthAdjust="spacingAndGlyphs">Męcka Wola</text></g>
<g id="sieradz-meka"><circle class="or" cx="1067.7" cy="1504.7" r="7.5"/><text class="l" transform="translate(1068.3 1606)rotate(-90)" textLength="87.7" lengthAdjust="spacingAndGlyphs">Sieradz Męka</text></g>
<g id="sieradz-warta"><circle class="or" cx="1103.7" cy="1525.3" r="7.5"/><text class="l" transform="translate(1104.3 1630)rotate(-90)" textLength="92.7" lengthAdjust="spacingAndGlyphs">Sieradz Warta</text></g>
<g id="sieradz"><circle class="big or" cx="1139.3" cy="1546" r="9.8"/><text class="h" transform="translate(1140 1638.3)rotate(-90)" textLength="74.3" lengthAdjust="spacingAndGlyphs">SIERADZ</text></g>
<g id="dir-ostrow"><circle style="stroke:none;fill:#f59f00" cx="1162.7" cy="1559" r="7.6"/><text class="t" transform="translate(1168.3 1517)rotate(210)" textLength="80" lengthAdjust="spacingAndGlyphs">‹ OSTRÓW WLKP.</text></g>
<g id="dir-sieradz"><circle style="stroke:none;fill:#f59f00" cx="794" cy="1512" r="7.6"/><text class="t" transform="translate(826 1495)rotate(210)" textLength="49" lengthAdjust="spacingAndGlyphs">SIERADZ ›</text></g>
<g id="kalisz"><circle class="or" cx="817.3" cy="1524.3" r="7.5"/><text class="h" transform="translate(817.7 1590)rotate(-90)" textLength="50.7" lengthAdjust="spacingAndGlyphs">KALISZ</text></g>
<g id="nowe-skalmierzyce"><circle class="or" cx="852.3" cy="1545" r="7.5"/><text class="l" transform="translate(853.3 1690)rotate(-90)" textLength="129.3" lengthAdjust="spacingAndGlyphs">Nowe Skalmierzyce</text></g>
<g id="ostrow-wlkp"><circle class="or" cx="889.7" cy="1566" r="7.5"/><text class="h" transform="translate(889 1769.3)rotate(-90)" textLength="183.3" lengthAdjust="spacingAndGlyphs">OSTRÓW WIELKOPOLSKI</text></g>
<g id="pleszew"><circle class="or" cx="925.7" cy="1586.7" r="7.5"/><text class="l" transform="translate(926.7 1655)rotate(-90)" textLength="54.3" lengthAdjust="spacingAndGlyphs">Pleszew</text></g>
<g id="jarocin"><circle class="or" cx="962.3" cy="1607.3" r="7.5"/><text class="l" transform="translate(962.7 1666.7)rotate(-90)" textLength="45.7" lengthAdjust="spacingAndGlyphs">Jarocin</text></g>
<g id="sroda"><circle class="or" cx="998.3" cy="1628.3" r="7.5"/><text class="l" transform="translate(998.3 1722.7)rotate(-90)" textLength="81" lengthAdjust="spacingAndGlyphs">Środa Wlkp.</text></g>
<g id="poznan-krzesiny"><circle class="or" cx="1034.7" cy="1649.3" r="7.5"/><text class="l" transform="translate(1035 1773.3)rotate(-90)" textLength="108.3" lengthAdjust="spacingAndGlyphs">Poznań Krzesiny</text></g>
<g id="poznan-staroleka"><circle class="or" cx="1070.7" cy="1670" r="7.5"/><text class="l" transform="translate(1071 1800)rotate(-90)" textLength="116.7" lengthAdjust="spacingAndGlyphs">Poznań Starołęka</text></g>
<g id="poznan-debina"><circle class="or" cx="1107" cy="1690.3" r="7.5"/><text class="l" transform="translate(1106.7 1806.7)rotate(-90)" textLength="96.7" lengthAdjust="spacingAndGlyphs">Poznań Dębina</text></g>
<g id="poznan-glowny"><circle class="big or" cx="1142.7" cy="1711.7" r="9.8"/><text class="h" style="font-size:19px" transform="translate(1142.7 1885.7)rotate(-90)" textLength="156.4" lengthAdjust="spacingAndGlyphs">POZNAŃ GŁÓWNY</text></g>
<g id="dir-opoczno"><rect x="-6.5" y="-6.5" width="13" height="13" fill="#f9b1b7" transform="translate(614.4 438)rotate(-30)"/><text class="t" transform="translate(610 463)rotate(-30)" textLength="54" lengthAdjust="spacingAndGlyphs">‹ OPOCZNO</text></g>
<g id="sitowa"><circle class="pk" cx="636.2" cy="424.5" r="7.5"/><text class="l" transform="translate(637.3 409.4)rotate(-90)" textLength="44.9" lengthAdjust="spacingAndGlyphs">Sitowa</text></g>
<g id="petrykozy"><circle class="pk" cx="671.6" cy="405" r="7.5"/><text class="l" transform="translate(671.9 390.6)rotate(-90)" textLength="66.1" lengthAdjust="spacingAndGlyphs">Petrykozy</text></g>
<g id="ruda"><circle class="pk" cx="707.7" cy="384.5" r="7.5"/><text class="l" transform="translate(708.3 370.6)rotate(-90)" textLength="127.7" lengthAdjust="spacingAndGlyphs">Ruda Białaczowska</text></g>
<g id="kornica"><circle class="pk" cx="743.7" cy="363.7" r="7.5"/><text class="l" transform="translate(744 348.2)rotate(-90)" textLength="48.2" lengthAdjust="spacingAndGlyphs">Kornica</text></g>
<g id="konskie"><circle class="pk" cx="779.5" cy="345" r="7.5"/><text class="l" transform="translate(779.7 329.8)rotate(-90)" textLength="51" lengthAdjust="spacingAndGlyphs">Końskie</text></g>
<g id="wasosz"><circle class="pk" cx="815.5" cy="324" r="7.5"/><text class="l" transform="translate(816 309.4)rotate(-90)" textLength="106.5" lengthAdjust="spacingAndGlyphs">Wąsosz Konecki</text></g>
<g id="czarniecka"><circle class="pk" cx="851.5" cy="302.9" r="7.5"/><text class="l" transform="translate(851 288.6)rotate(-90)" textLength="106.2" lengthAdjust="spacingAndGlyphs">Czarniecka Góra</text></g>
<g id="staporkow"><circle class="pk" cx="887.5" cy="282" r="7.5"/><text class="l" transform="translate(887.5 267.3)rotate(-90)" textLength="72.3" lengthAdjust="spacingAndGlyphs">Stąporków</text></g>
<g id="wolka"><circle class="pk" cx="923.5" cy="261" r="7.5"/><text class="l" transform="translate(922.5 246.1)rotate(-90)" textLength="113.4" lengthAdjust="spacingAndGlyphs">Wólka Plebańska</text></g>
<g id="soltykow"><circle class="pk" cx="959.5" cy="240.5" r="7.5"/><text class="l" transform="translate(960 227.3)rotate(-90)" textLength="62" lengthAdjust="spacingAndGlyphs">Sołtyków</text></g>
<g id="gilow"><circle class="pk" cx="995.5" cy="219" r="7.5"/><text class="l" transform="translate(995.7 204)rotate(-90)" textLength="35.8" lengthAdjust="spacingAndGlyphs">Gilów</text></g>
<g id="blizyn"><circle class="pk" cx="1031.5" cy="199" r="7.5"/><text class="l" transform="translate(1032 182.9)rotate(-90)" textLength="40.9" lengthAdjust="spacingAndGlyphs">Bliżyn</text></g>
<g id="brzask"><circle class="pk" cx="1067.5" cy="178" r="7.5"/><text class="l" transform="translate(1067.8 159)rotate(-90)" textLength="44" lengthAdjust="spacingAndGlyphs">Brzask</text></g>
<g id="skarzysko-milica"><circle class="pk" cx="1103.5" cy="157" r="7.5"/><text class="l" transform="translate(1103.9 142.9)rotate(-90)" textLength="110.2" lengthAdjust="spacingAndGlyphs">Skarżysko Milica</text></g>
<g id="skarzysko-kam"><circle class="big pk" cx="1139.5" cy="136.5" r="9.8"/><text class="h" style="font-size:18px" transform="translate(1139.6 116.3)rotate(-90)" textLength="111.4" lengthAdjust="spacingAndGlyphs">SKARŻYSKO-</text><text class="h" transform="translate(1162.9 116.3)rotate(-90)" textLength="104.9" lengthAdjust="spacingAndGlyphs">-KAMIENNA</text></g>
<g id="dir-drzewica"><circle style="stroke:none;fill:#f9b1b7" cx="722.3" cy="578.4" r="7.6"/><text class="t" transform="translate(722 601)rotate(-30)" textLength="59" lengthAdjust="spacingAndGlyphs">‹ DRZEWICA</text></g>
<g id="bieliny"><circle class="pk" cx="743.7" cy="565" r="7.5"/><text class="l" transform="translate(744 549)rotate(-90)" textLength="130.6" lengthAdjust="spacingAndGlyphs">Bieliny Opoczyńskie</text></g>
<g id="zygmuntow"><circle class="pk" cx="779.5" cy="545.3" r="7.5"/><text class="l" transform="translate(779.7 530.6)rotate(-90)" textLength="79.6" lengthAdjust="spacingAndGlyphs">Zygmuntów</text></g>
<g id="smogorzow"><circle class="pk" cx="815.5" cy="525" r="7.5"/><text class="l" transform="translate(816 510.2)rotate(-90)" textLength="146.9" lengthAdjust="spacingAndGlyphs">Smogorzów Przysuski</text></g>
<g id="przysucha"><circle class="pk" cx="851.5" cy="503.7" r="7.5"/><text class="l" transform="translate(851 489)rotate(-90)" textLength="67.8" lengthAdjust="spacingAndGlyphs">Przysucha</text></g>
<g id="skrzynno"><circle class="pk" cx="887.5" cy="483.3" r="7.5"/><text class="l" transform="translate(887.5 468.2)rotate(-90)" textLength="60.9" lengthAdjust="spacingAndGlyphs">Skrzynno</text></g>
<g id="wieniawa"><circle class="pk" cx="923.5" cy="462.4" r="7.5"/><text class="l" transform="translate(922.5 446.1)rotate(-90)" textLength="65.3" lengthAdjust="spacingAndGlyphs">Wieniawa</text></g>
<g id="podbor"><circle class="pk" cx="959.5" cy="441.2" r="7.5"/><text class="l" transform="translate(960 427.8)rotate(-90)" textLength="46.2" lengthAdjust="spacingAndGlyphs">Podbór</text></g>
<g id="chronow"><circle class="pk" cx="995.5" cy="420.4" r="7.5"/><text class="l" transform="translate(995.7 402)rotate(-90)" textLength="59.1" lengthAdjust="spacingAndGlyphs">Chronów</text></g>
<g id="wolanow"><circle class="pk" cx="1031.5" cy="400" r="7.5"/><text class="l" transform="translate(1032 384.5)rotate(-90)" textLength="62.1" lengthAdjust="spacingAndGlyphs">Wolanów</text></g>
<g id="konczyce"><circle class="pk" cx="1067.5" cy="379.2" r="7.5"/><text class="l" transform="translate(1067.8 364.5)rotate(-90)" textLength="137.2" lengthAdjust="spacingAndGlyphs">Kończyce Radomskie</text></g>
<g id="radom-potkanow"><circle class="pk" cx="1103.5" cy="358.8" r="7.5"/><text class="l" transform="translate(1103.9 343.7)rotate(-90)" textLength="116.4" lengthAdjust="spacingAndGlyphs">Radom Potkanów</text></g>
<g id="radom-glowny"><circle class="big pk" cx="1139.5" cy="338" r="9.8"/><text class="h" transform="translate(1139.6 320.4)rotate(-90)" textLength="149" lengthAdjust="spacingAndGlyphs">RADOM GŁÓWNY</text></g>
<g id="drzewica"><circle class="big pk" cx="1139.6" cy="504" r="9.8"/><text class="h" transform="translate(1139.6 485.7)rotate(-90)" textLength="93" lengthAdjust="spacingAndGlyphs">DRZEWICA</text></g>
<g id="dir-radom"><circle style="stroke:none;fill:#f9b1b7" cx="1163" cy="490.6" r="7.6"/><text class="t" transform="translate(1131 551)rotate(-30)" textLength="43" lengthAdjust="spacingAndGlyphs">RADOM ›</text></g>
<g id="radzice"><circle class="pk" cx="1104" cy="525" r="7.5"/><text class="l" transform="translate(1103.9 510.2)rotate(-90)" textLength="51" lengthAdjust="spacingAndGlyphs">Radzice</text></g>
<g id="deba"><circle class="pk" cx="1068" cy="545.7" r="7.5"/><text class="l" transform="translate(1067.8 531.8)rotate(-90)" textLength="116.3" lengthAdjust="spacingAndGlyphs">Dęba Opoczyńska</text></g>
<g id="antoniow"><circle class="pk" cx="1031.7" cy="566.5" r="7.5"/><text class="l" transform="translate(1032 553)rotate(-90)" textLength="64" lengthAdjust="spacingAndGlyphs">Antoniów</text></g>
<g id="brzustow"><circle class="pk" cx="1031.7" cy="608" r="7.5"/><text class="l" transform="translate(1099.3 648)rotate(210)" textLength="62" lengthAdjust="spacingAndGlyphs">Brzustów</text></g>
<g id="tomaszow-biala"><circle class="pk" cx="995.5" cy="630" r="7.5"/><text class="l" transform="translate(996.5 616.3)rotate(-90)" textLength="176.3" lengthAdjust="spacingAndGlyphs">Tomaszów Maz. Białobrzegi</text></g>
<g id="spala"><circle class="pk" cx="959.3" cy="608" r="7.5"/><text class="l" transform="translate(971.3 598)rotate(-90)" textLength="37" lengthAdjust="spacingAndGlyphs">Spała</text></g>
<g id="tomaszow"><circle class="big pk" cx="959.3" cy="650.7" r="9.8"/><text class="h" transform="translate(946 641)rotate(-90)" textLength="154" lengthAdjust="spacingAndGlyphs">TOMASZÓW MAZ.</text></g>
<g id="skrzynki"><circle class="pk" cx="923" cy="671" r="7.5"/><text class="l" transform="translate(923.2 655)rotate(-90)" textLength="55" lengthAdjust="spacingAndGlyphs">Skrzynki</text></g>
<g id="zaosie"><circle class="pk" cx="887" cy="691.7" r="7.5"/><text class="l" transform="translate(887.3 677.3)rotate(-90)" textLength="44.5" lengthAdjust="spacingAndGlyphs">Zaosie</text></g>
<g id="wykno"><circle class="pk" cx="851" cy="712.3" r="7.5"/><text class="l" transform="translate(851.7 698.3)rotate(-90)" textLength="45" lengthAdjust="spacingAndGlyphs">Wykno</text></g>
<g id="slotwiny"><circle class="pk" cx="815" cy="733.3" r="7.5"/><text class="l" transform="translate(816 718)rotate(-90)" textLength="58" lengthAdjust="spacingAndGlyphs">Słotwiny</text></g>
<g id="jelen"><circle class="pk" cx="959.3" cy="693.3" r="7.5"/><text class="l" transform="translate(960 739)rotate(-90)" textLength="32.3" lengthAdjust="spacingAndGlyphs">Jeleń</text></g>
<g id="bratkow"><circle class="pk" cx="995.5" cy="714.3" r="7.5"/><text class="l" transform="translate(996 784)rotate(-90)" textLength="54.7" lengthAdjust="spacingAndGlyphs">Bratków</text></g>
<g id="tomaszowek"><circle class="pk" cx="1031.5" cy="735" r="7.5"/><text class="l" transform="translate(1031.7 836.7)rotate(-90)" textLength="85.7" lengthAdjust="spacingAndGlyphs">Tomaszówek</text></g>
<g id="szadkowice"><circle class="pk" cx="1067.5" cy="756" r="7.5"/><text class="l" transform="translate(1067.3 847.3)rotate(-90)" textLength="76.6" lengthAdjust="spacingAndGlyphs">Szadkowice</text></g>
<g id="slomianka"><circle class="pk" cx="1103.5" cy="776.7" r="7.5"/><text class="l" transform="translate(1104 860)rotate(-90)" textLength="68.3" lengthAdjust="spacingAndGlyphs">Słomianka</text></g>
<g id="opoczno"><circle class="big pk" cx="1139.3" cy="797.3" r="9.8"/><text class="h" transform="translate(1140 899.3)rotate(-90)" textLength="83.6" lengthAdjust="spacingAndGlyphs">OPOCZNO</text></g>
<g id="dir-skarzysko"><rect x="-6.5" y="-6.5" width="13" height="13" fill="#f9b1b7" transform="translate(1162.7 784.3)rotate(-30)"/><text class="t" transform="translate(1113 765)rotate(-30)" textLength="64" lengthAdjust="spacingAndGlyphs">SKARŻYSKO-</text><text class="t" transform="translate(1120 776)rotate(-30)" textLength="65" lengthAdjust="spacingAndGlyphs">-KAMIENNA ›</text></g>
<g id="chrusty"><circle class="yl" cx="815" cy="775" r="7.5"/><text class="l" transform="translate(826 768)rotate(-30)" textLength="92" lengthAdjust="spacingAndGlyphs">Chrusty Nowe</text></g>
<g id="rokiciny"><circle class="yl" cx="851" cy="796" r="7.5"/><text class="l" transform="translate(862 788)rotate(-30)" textLength="61" lengthAdjust="spacingAndGlyphs">ROKICINY</text></g>
<g id="laznow"><circle class="yl" cx="887" cy="816.7" r="7.5"/><text class="l" transform="translate(901 808)rotate(-30)" textLength="51" lengthAdjust="spacingAndGlyphs">Łaznów</text></g>
<g id="wolborka"><circle class="yl" cx="887" cy="858.3" r="7.5"/><text class="l" transform="translate(901 851)rotate(-30)" textLength="63" lengthAdjust="spacingAndGlyphs">Wolbórka</text></g>
<g id="baby"><circle class="yl" cx="887" cy="900" r="7.5"/><text class="l" transform="translate(900 892)rotate(-30)" textLength="32" lengthAdjust="spacingAndGlyphs">Baby</text></g>
<g id="moszczenica"><circle class="yl" cx="887" cy="941.7" r="7.5"/><text class="l" transform="translate(899 935)rotate(-30)" textLength="85" lengthAdjust="spacingAndGlyphs">Moszczenica</text></g>
<g id="jarosty"><circle class="yl" cx="923" cy="964.3" r="7.5"/><text class="l" transform="translate(934 956)rotate(-30)" textLength="45" lengthAdjust="spacingAndGlyphs">Jarosty</text></g>
<g id="piotrkow"><circle class="big yl" cx="959.3" cy="983.3" r="9.8"/><text class="h" transform="translate(960 1222.7)rotate(-90)" textLength="221" lengthAdjust="spacingAndGlyphs">PIOTRKÓW TRYBUNALSKI</text></g>
<g id="milejow"><circle class="yl" cx="995.3" cy="962.7" r="7.5"/><text class="l" transform="translate(1010 953)rotate(-30)" textLength="52" lengthAdjust="spacingAndGlyphs">Milejów</text></g>
<g id="rozprza"><circle class="yl" cx="995.3" cy="1004.3" r="7.5"/><text class="l" transform="translate(1009 995)rotate(-30)" textLength="54" lengthAdjust="spacingAndGlyphs">Rozprza</text></g>
<g id="luciazanka"><circle class="yl" cx="995.3" cy="1046" r="7.5"/><text class="l" transform="translate(1010 1036)rotate(-30)" textLength="74" lengthAdjust="spacingAndGlyphs">Luciążanka</text></g>
<g id="wilkoszewice"><circle class="yl" cx="995.3" cy="1087.7" r="7.5"/><text class="l" transform="translate(1010 1078)rotate(-30)" textLength="90" lengthAdjust="spacingAndGlyphs">Wilkoszewice</text></g>
<g id="gorzkowice"><circle class="yl" cx="995.3" cy="1130" r="7.5"/><text class="l" transform="translate(1009 1120)rotate(-30)" textLength="76" lengthAdjust="spacingAndGlyphs">Gorzkowice</text></g>
<g id="gorzedow"><circle class="yl" cx="995.3" cy="1171.7" r="7.5"/><text class="l" transform="translate(996 1254)rotate(-90)" textLength="66.3" lengthAdjust="spacingAndGlyphs">Gorzędów</text></g>
<g id="kamiensk"><circle class="yl" cx="1031.5" cy="1192.7" r="7.5"/><text class="l" transform="translate(1031.7 1271.7)rotate(-90)" textLength="62.4" lengthAdjust="spacingAndGlyphs">Kamieńsk</text></g>
<g id="gomunice"><circle class="yl" cx="1067.5" cy="1213.3" r="7.5"/><text class="l" transform="translate(1067.3 1294)rotate(-90)" textLength="64" lengthAdjust="spacingAndGlyphs">Gomunice</text></g>
<g id="dobryszyce"><circle class="yl" cx="1103.5" cy="1233.7" r="7.5"/><text class="l" transform="translate(1104 1415)rotate(-90)" textLength="164.3" lengthAdjust="spacingAndGlyphs">Dobryszyce k/Radomska</text></g>
<g id="radomsko"><circle class="big yl" cx="1139.3" cy="1255" r="9.8"/><text class="h" transform="translate(1140 1373.3)rotate(-90)" textLength="100" lengthAdjust="spacingAndGlyphs">RADOMSKO</text></g>
<g id="dir-czestochowa"><text class="t" transform="translate(1168.3 1226)rotate(210)" textLength="79" lengthAdjust="spacingAndGlyphs">‹ CZĘSTOCHOWA</text></g>
</svg>
